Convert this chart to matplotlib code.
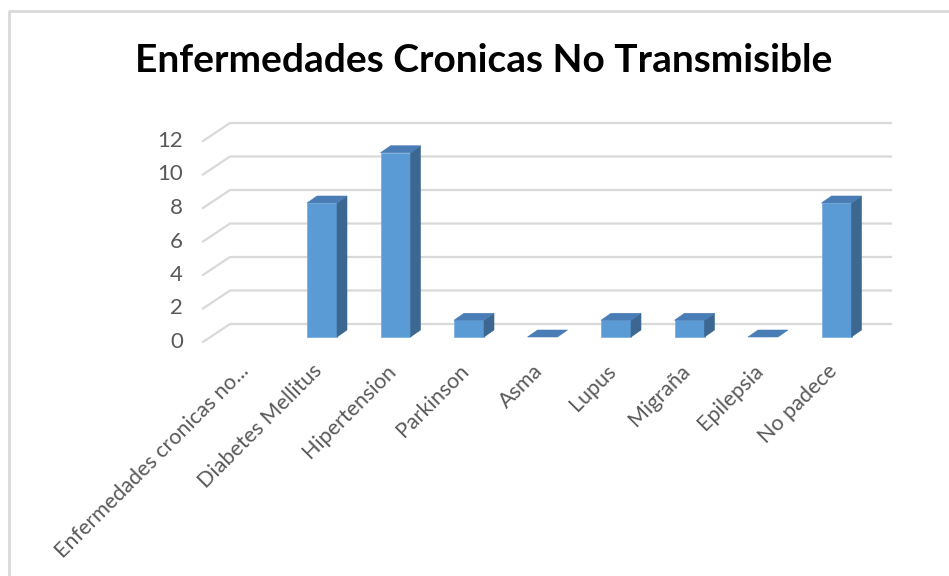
import matplotlib
matplotlib.use("Agg")
import matplotlib.pyplot as plt
from matplotlib.patches import Polygon
from matplotlib.lines import Line2D

# Chart data (None = no value recorded for that category)
categories = ["Enfermedades cronicas no...", "Diabetes Mellitus", "Hipertension",
              "Parkinson", "Asma", "Lupus", "Migraña", "Epilepsia", "No padece"]
values = [None, 8, 11, 1, 0, 1, 1, 0, 8]
y_ticks = [0, 2, 4, 6, 8, 10, 12]
title = "Enfermedades Cronicas No Transmisible"

W, H = 949, 576
fig = plt.figure(figsize=(W / 100, H / 100), dpi=100)
fig.patch.set_facecolor("white")

# Pixel geometry of the category/value scale
x0_px, step_px = 248.5, 73.5      # centre of first category, spacing
zero_px, unit_px = 337.0, 16.75    # baseline of the bars, pixels per unit

ax = fig.add_axes([0, 0, 1, 1])
ax.set_xlim(-x0_px / step_px, (W - x0_px) / step_px)
ax.set_ylim((zero_px - H) / unit_px, zero_px / unit_px)
ax.axis("off")

# 3D depth offsets (in data units)
half_w = 15 / step_px
dep_x = 10 / step_px
dep_y = 7 / unit_px
back_dy = 13 / unit_px          # back wall above bar baseline
front_dy = -5 / unit_px         # front edge below bar baseline
grid_back_x0 = (230 - x0_px) / step_px
grid_front_x0 = (203 - x0_px) / step_px
grid_back_x1 = (891 - x0_px) / step_px

label_font = ["Lato", "DejaVu Sans"]
grid_col = "#D9D9D9"
for t in y_ticks:
    ax.add_line(Line2D([grid_front_x0, grid_back_x0, grid_back_x1],
                       [t + front_dy, t + back_dy, t + back_dy],
                       color=grid_col, lw=1.6, zorder=1, clip_on=False))
    ax.text((183 - x0_px) / step_px, t + front_dy, str(t), ha="right", va="center",
            fontsize=16, color="#595959", family=label_font)

front_col, side_col, top_col = "#5B9BD5", "#3B6790", "#4A7DB5"
for i, v in enumerate(values):
    if v is None:
        continue
    xl, xr = i - half_w, i + half_w
    if v > 0:
        ax.add_patch(Polygon([(xl, 0), (xr, 0), (xr, v), (xl, v)], closed=True,
                             facecolor=front_col, edgecolor="#7DB1E0", lw=0.6, zorder=3))
        ax.add_patch(Polygon([(xr, 0), (xr + dep_x, dep_y), (xr + dep_x, v + dep_y), (xr, v)],
                             closed=True, facecolor=side_col, edgecolor=side_col, lw=0.4, zorder=3))
    ax.add_patch(Polygon([(xl, v), (xr, v), (xr + dep_x, v + dep_y), (xl + dep_x, v + dep_y)],
                         closed=True, facecolor=top_col, edgecolor=top_col, lw=0.4, zorder=3))

# Category labels, rotated
for i, c in enumerate(categories):
    ax.text(i - 0.04, (zero_px - 368) / unit_px, c, rotation=45, rotation_mode="anchor",
            ha="right", va="center", fontsize=15.5, color="#595959", family=label_font)

# Title
fig.text(484 / W, 1 - 60 / H, title, ha="center", va="center", fontsize=28,
         fontweight="bold", color="black", family=["Lato", "DejaVu Sans"])

# Chart-area border (top and left edges)
fig.add_artist(Line2D([9 / W, 9 / W, 1], [0, 1 - 11 / H, 1 - 11 / H],
                      transform=fig.transFigure, color="#D9D9D9", lw=2))

fig.savefig("out.png", dpi=100, facecolor="white")
